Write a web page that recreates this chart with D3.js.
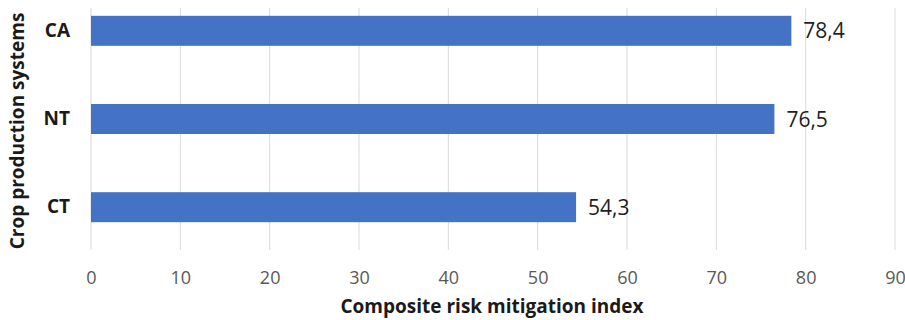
<!DOCTYPE html>
<html>
<head>
<meta charset="utf-8">
<script src="https://cdn.jsdelivr.net/npm/d3@7"></script>
<style>
  html, body { margin: 0; padding: 0; background: #fff; }
  svg { display: block; font-family: "Open Sans", "Noto Sans", sans-serif; }
</style>
</head>
<body>
<svg id="chart" width="905" height="320"></svg>
<script>
// Composite risk mitigation index per crop production system
const systems = ["CA", "NT", "CT"];
const indexValues = [78.4, 76.5, 54.3];
const xTicks = [0, 10, 20, 30, 40, 50, 60, 70, 80, 90];

const svg = d3.select("#chart");
const plot = { left: 91, right: 895, top: 8, bottom: 250 };

const x = d3.scaleLinear().domain([0, 90]).range([plot.left, plot.right]);
const y = d3.scaleBand().domain(systems).range([7, 231])
  .paddingInner(0.66).paddingOuter(0.1);

// vertical gridlines
svg.append("g").selectAll("line").data(xTicks).join("line")
  .attr("x1", d => x(d)).attr("x2", d => x(d))
  .attr("y1", plot.top).attr("y2", plot.bottom)
  .attr("stroke", "#d9d9d9").attr("stroke-width", 1);

// bars
svg.append("g").selectAll("rect").data(systems).join("rect")
  .attr("x", x(0))
  .attr("y", d => y(d))
  .attr("width", (d, i) => x(indexValues[i]) - x(0))
  .attr("height", y.bandwidth())
  .attr("fill", "#4472c4");

// value labels
svg.append("g").selectAll("text").data(systems).join("text")
  .attr("x", (d, i) => x(indexValues[i]) + 12)
  .attr("y", d => y(d) + y.bandwidth() / 2)
  .attr("dy", "0.36em")
  .attr("font-size", 21)
  .attr("fill", "#1f1f1f")
  .text((d, i) => String(indexValues[i]).replace(".", ","));

// x axis tick labels
const xAxis = d3.axisBottom(x).tickValues(xTicks).tickSize(0).tickPadding(0);
const gx = svg.append("g").attr("transform", `translate(0,${plot.bottom + 21})`).call(xAxis);
gx.select(".domain").remove();
gx.selectAll("text").attr("font-size", 18).attr("fill", "#595959")
  .attr("font-family", "'Open Sans', sans-serif").attr("dy", "0.71em");

// y axis category labels
const yAxis = d3.axisLeft(y).tickSize(0).tickPadding(0);
const gy = svg.append("g").attr("transform", `translate(${plot.left - 21},0)`).call(yAxis);
gy.select(".domain").remove();
gy.selectAll("text").attr("font-size", 19).attr("font-weight", "bold")
  .attr("fill", "#1a1a1a").attr("font-family", "'Open Sans', sans-serif");

// axis titles
svg.append("text")
  .attr("x", 492).attr("y", 313)
  .attr("text-anchor", "middle")
  .attr("font-size", 19).attr("font-weight", "bold").attr("fill", "#1a1a1a")
  .text("Composite risk mitigation index");

svg.append("text")
  .attr("transform", "translate(24,131) rotate(-90)")
  .attr("text-anchor", "middle")
  .attr("font-size", 19).attr("font-weight", "bold").attr("fill", "#1a1a1a")
  .text("Crop production systems");
</script>
</body>
</html>
